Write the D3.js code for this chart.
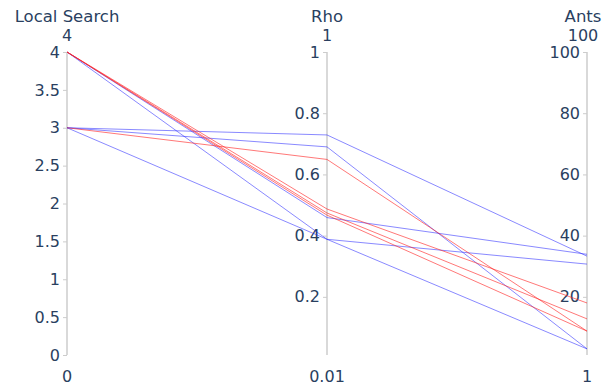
<!DOCTYPE html>
<html>
<head>
<meta charset="utf-8">
<script src="https://cdn.jsdelivr.net/npm/d3@7"></script>
<style>
  body { margin: 0; background: #fff; }
  text { font-family: "DejaVu Sans", Verdana, sans-serif; fill: #2a3f5f; }
</style>
</head>
<body>
<svg width="607" height="386"></svg>
<script>
// dimensions of the parallel axes
var dims = ["Local Search", "Rho", "Ants"];
var dimMin = [0, 0.01, 1];
var dimMax = [4, 1, 100];
var dimTicks = [
  [0, 0.5, 1, 1.5, 2, 2.5, 3, 3.5, 4],
  [0.2, 0.4, 0.6, 0.8, 1],
  [20, 40, 60, 80, 100]
];

// one value per run, per dimension
var localSearch = [3, 3, 4, 3, 4, 4, 4, 4, 3];
var rho        = [0.729, 0.69, 0.459, 0.388, 0.388, 0.487, 0.474, 0.467, 0.649];
var ants       = [33.3, 3, 33.9, 3, 30.7, 18, 12.8, 8.8, 8.8];
var group      = [0, 0, 0, 0, 0, 1, 1, 1, 1]; // 0 = blue, 1 = red

var svg = d3.select("svg"),
    plotTop = 52, plotBottom = 355;

var x = d3.scalePoint().domain(dims).range([67, 587]);

var y = dims.map(function(d, i) {
  return d3.scaleLinear().domain([dimMin[i], dimMax[i]]).range([plotBottom, plotTop]);
});

var rows = localSearch.map(function(v, i) {
  return [v, rho[i], ants[i]];
});

var colors = ["rgba(40,40,255,0.55)", "rgba(255,30,30,0.6)"];

var line = d3.line()
  .x(function(d, i) { return x(dims[i]); })
  .y(function(d, i) { return y[i](d); });

// axes
dims.forEach(function(d, i) {
  var g = svg.append("g")
    .attr("transform", "translate(" + x(d) + ",0)");
  var axis = d3.axisLeft(y[i]).tickValues(dimTicks[i]).tickSize(4).tickPadding(3)
    .tickFormat(d3.format("~g"));
  g.call(axis);
  g.select(".domain").attr("stroke", "#ccc").attr("stroke-width", 1.5)
    .attr("d", "M0," + plotTop + "V" + plotBottom);
  g.selectAll(".tick line").attr("stroke", "#ccc");
  g.selectAll(".tick text").style("font-size", "16px").attr("fill", "#2a3f5f")
    .style("font-family", "DejaVu Sans, Verdana, sans-serif");

  svg.append("text").attr("x", i == 2 ? 583 : x(d)).attr("y", 22).attr("text-anchor", "middle")
    .style("font-size", "16.5px").text(d);
  svg.append("text").attr("x", i == 2 ? 583 : x(d)).attr("y", 41).attr("text-anchor", "middle")
    .style("font-size", "16px").text(d3.format("~g")(dimMax[i]));
  svg.append("text").attr("x", x(d)).attr("y", 382).attr("text-anchor", "middle")
    .style("font-size", "16px").text(d3.format("~g")(dimMin[i]));
});

// lines
svg.append("g").selectAll("path")
  .data(rows)
  .enter().append("path")
    .attr("d", line)
    .attr("fill", "none")
    .attr("stroke", function(d, i) { return colors[group[i]]; })
    .attr("stroke-width", 1);
</script>
</body>
</html>
